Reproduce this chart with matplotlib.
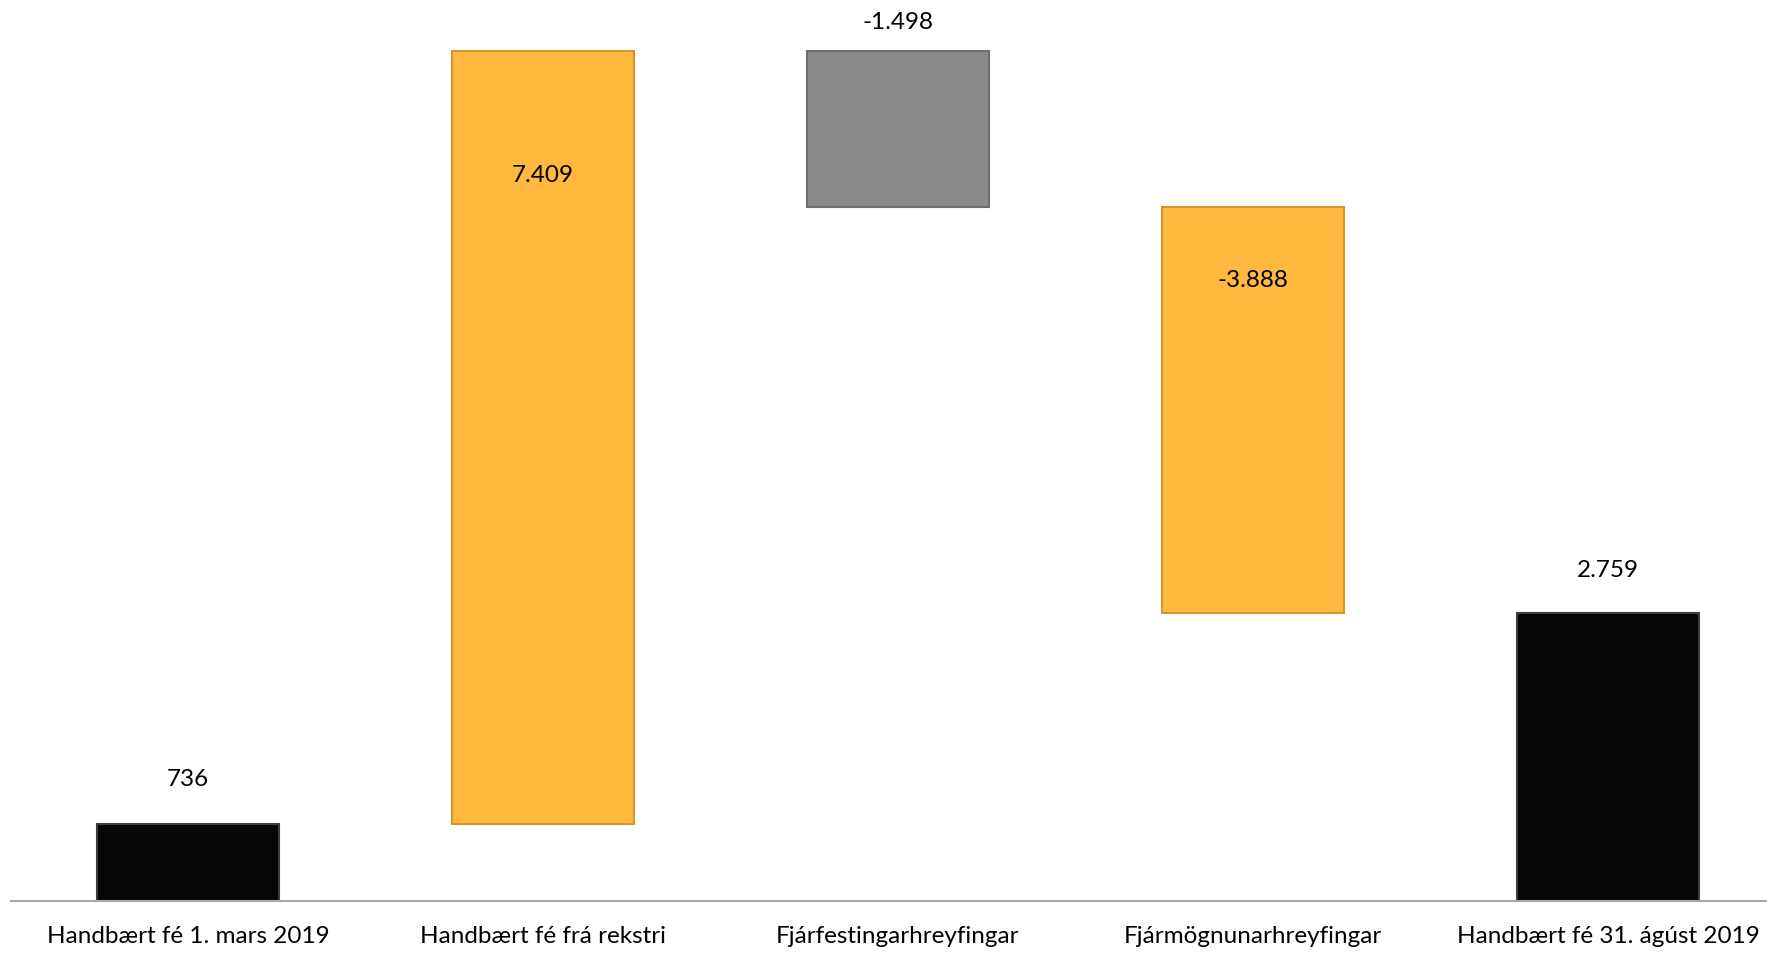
import matplotlib
matplotlib.use("Agg")
import matplotlib.pyplot as plt
import numpy as np

plt.rcParams['font.family'] = ['Lato', 'DejaVu Sans']

categories = ['Handbært fé 1. mars 2019', 'Handbært fé frá rekstri',
              'Fjárfestingarhreyfingar', 'Fjármögnunarhreyfingar',
              'Handbært fé 31. ágúst 2019']
start_value = 736
changes = [7409, -1498, -3888]
end_value = 2759

# waterfall geometry
values = [start_value] + changes + [end_value]
bottoms = [0]
heights = [start_value]
running = start_value
for c in changes:
    new = running + c
    bottoms.append(min(running, new))
    heights.append(abs(c))
    running = new
bottoms.append(0)
heights.append(end_value)

colors = ['#060606', '#FFB93F', '#898989', '#FFB93F', '#060606']
edges = ['#3C3C3C', '#D4972E', '#6E6E6E', '#D4972E', '#3C3C3C']

fig = plt.figure(figsize=(17.67, 9.54), dpi=100)
ax = fig.add_axes([11 / 1767, 52 / 954, 1 - 11 / 1767, 1 - 52 / 954])

x = np.arange(len(categories))
ax.bar(x, heights, bottom=bottoms, width=0.513, color=colors,
       edgecolor=edges, linewidth=1.5, zorder=2)


def fmt(v):
    return f'{v:,}'.replace(',', '.')


# label placement: above for totals and -1.498, inside for the others
offsets = [46, -124, 29, -72, 43]
tops = [b + h for b, h in zip(bottoms, heights)]
for i, v in enumerate(values):
    ax.annotate(fmt(v), (x[i], tops[i]), xytext=(0, offsets[i]),
                textcoords='offset pixels', ha='center', va='center',
                fontsize=17.5, color='black')

ax.set_xlim(-0.4986, 4.448)
ax.set_ylim(0, 8640)
ax.set_xticks(x)
ax.set_xticklabels(categories, fontsize=17.5)
ax.tick_params(axis='x', length=0, pad=17)
ax.set_yticks([])
for s in ['top', 'left', 'right']:
    ax.spines[s].set_visible(False)
ax.spines['bottom'].set_color('#A6A6A6')
ax.spines['bottom'].set_linewidth(1.5)

fig.savefig('out.png', dpi=100)
